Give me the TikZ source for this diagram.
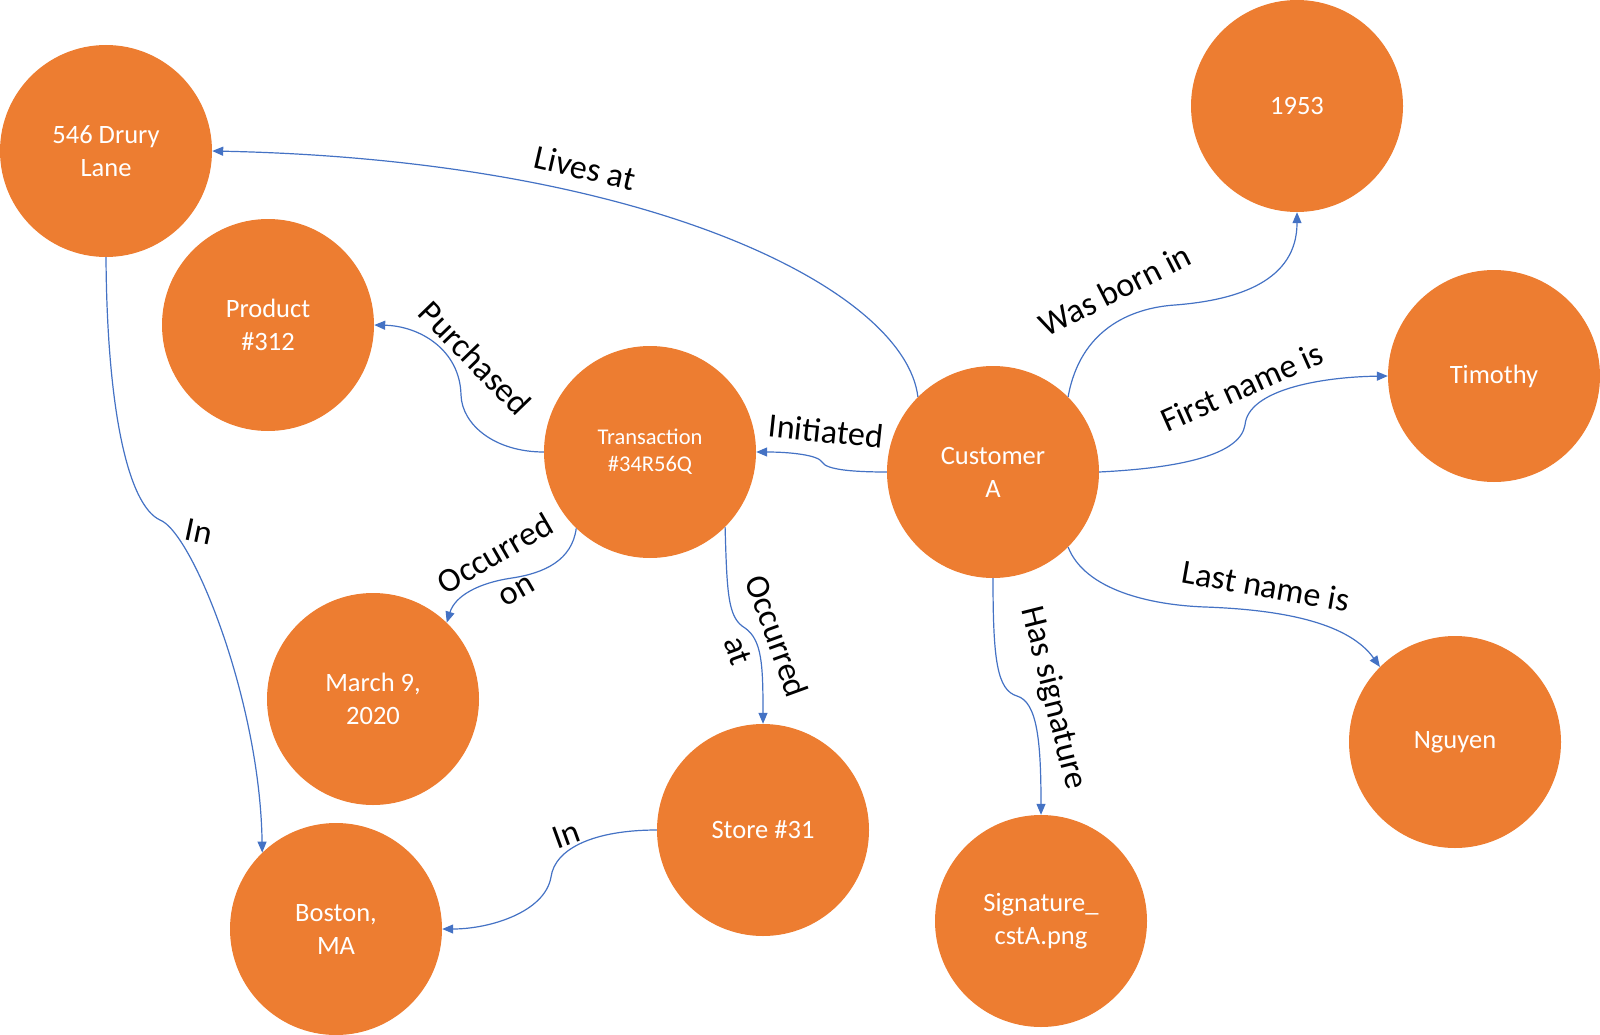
\documentclass[tikz,border=0pt]{standalone}
\usepackage{fontspec}
\setmainfont{Carlito}
\usetikzlibrary{arrows.meta}
\definecolor{nodeorange}{HTML}{ED7D31}
\definecolor{edgeblue}{HTML}{4472C4}
\begin{document}
\begin{tikzpicture}[x=1pt,y=-1pt,
  ent/.style={circle, fill=nodeorange, minimum size=212pt, inner sep=0pt, align=center, text=white, font=\fontsize{26.5}{33}\selectfont},
  rel/.style={-{Triangle[length=11pt,width=9pt]}, draw=edgeblue, line width=1.2pt},
  lab/.style={align=center, inner sep=0pt, font=\fontsize{34}{41}\selectfont}]
\useasboundingbox (0,0) rectangle (1600,1035);

% entities
\node[ent] (drury)  at (106,151)  {546 Drury\\Lane};
\node[ent] (prod)   at (268,325)  {Product\\\#312};
\node[ent, font=\fontsize{22.5}{27}\selectfont] (trans) at (650,452) {Transaction\\\#34R56Q};
\node[ent] (cust)   at (993,472)  {Customer\\A};
\node[ent] (yr)     at (1297,106) {1953};
\node[ent] (tim)    at (1494,376) {Timothy};
\node[ent] (ngu)    at (1455,742) {Nguyen};
\node[ent] (sig)    at (1041,921) {Signature\_\\cstA.png};
\node[ent] (store)  at (763,830)  {Store \#31};
\node[ent] (march)  at (373,699)  {March 9,\\2020};
\node[ent] (boston) at (336,929)  {Boston,\\MA};

% connectors
\draw[rel] (cust.135) .. controls (905,290) and (650,160) .. (drury.0);
\draw[rel] (cust.180) .. controls (855,472) and (826,470) .. (822,462)
                      .. controls (818,455) and (790,452) .. (trans.0);
\draw[rel] (trans.180) .. controls (495,452) and (462,425) .. (461,395)
                       .. controls (460,350) and (420,326) .. (prod.0);
\draw[rel] (trans.226) .. controls (572,560) and (545,573) .. (512,578)
                       .. controls (478,583) and (455,596) .. (march.46);
\draw[rel] (trans.-45) .. controls (727,595) and (728,618) .. (745,628)
                       .. controls (762,640) and (763,665) .. (store.90);
\draw[rel] (store.180) .. controls (595,830) and (555,848) .. (551,877)
                       .. controls (545,912) and (490,929) .. (boston.0);
\draw[rel] (drury.-90) .. controls (107,410) and (128,505) .. (160,520)
                       .. controls (192,532) and (260,700) .. (boston.134);
\draw[rel] (cust.45) .. controls (1080,330) and (1130,308) .. (1175,305)
                     .. controls (1240,300) and (1297,280) .. (yr.-90);
\draw[rel] (cust.0) .. controls (1180,468) and (1240,455) .. (1245,425)
                    .. controls (1248,390) and (1320,377) .. (tim.180);
\draw[rel] (cust.-45) .. controls (1085,590) and (1150,605) .. (1205,607)
                      .. controls (1290,610) and (1350,625) .. (ngu.135);
\draw[rel] (cust.-90) .. controls (993,660) and (997,690) .. (1017,696)
                      .. controls (1037,702) and (1041,740) .. (sig.90);

% labels
\node[lab, rotate=-13] (lLives) at (585,168) {Lives at};
\node[lab, rotate=-6]  (lInit)  at (826,431) {Initiated};
\node[lab, rotate=-46] (lPurch) at (475,358) {Purchased};
\node[lab, rotate=30]  (lOccOn) at (505,571) {Occurred\\on};
\node[lab, rotate=-70] (lOccAt) at (758,643) {Occurred\\at};
\node[lab, rotate=20]  (lIn1)   at (566,835) {In};
\node[lab, rotate=-12] (lIn2)   at (199,532) {In};
\node[lab, rotate=27]  (lBorn)  at (1115,290) {Was born in};
\node[lab, rotate=24]  (lFirst) at (1242,387) {First name is};
\node[lab, rotate=-10] (lLast)  at (1266,586) {Last name is};
\node[lab, rotate=-76] (lSig)   at (1053,698) {Has signature};
\end{tikzpicture}
\end{document}
